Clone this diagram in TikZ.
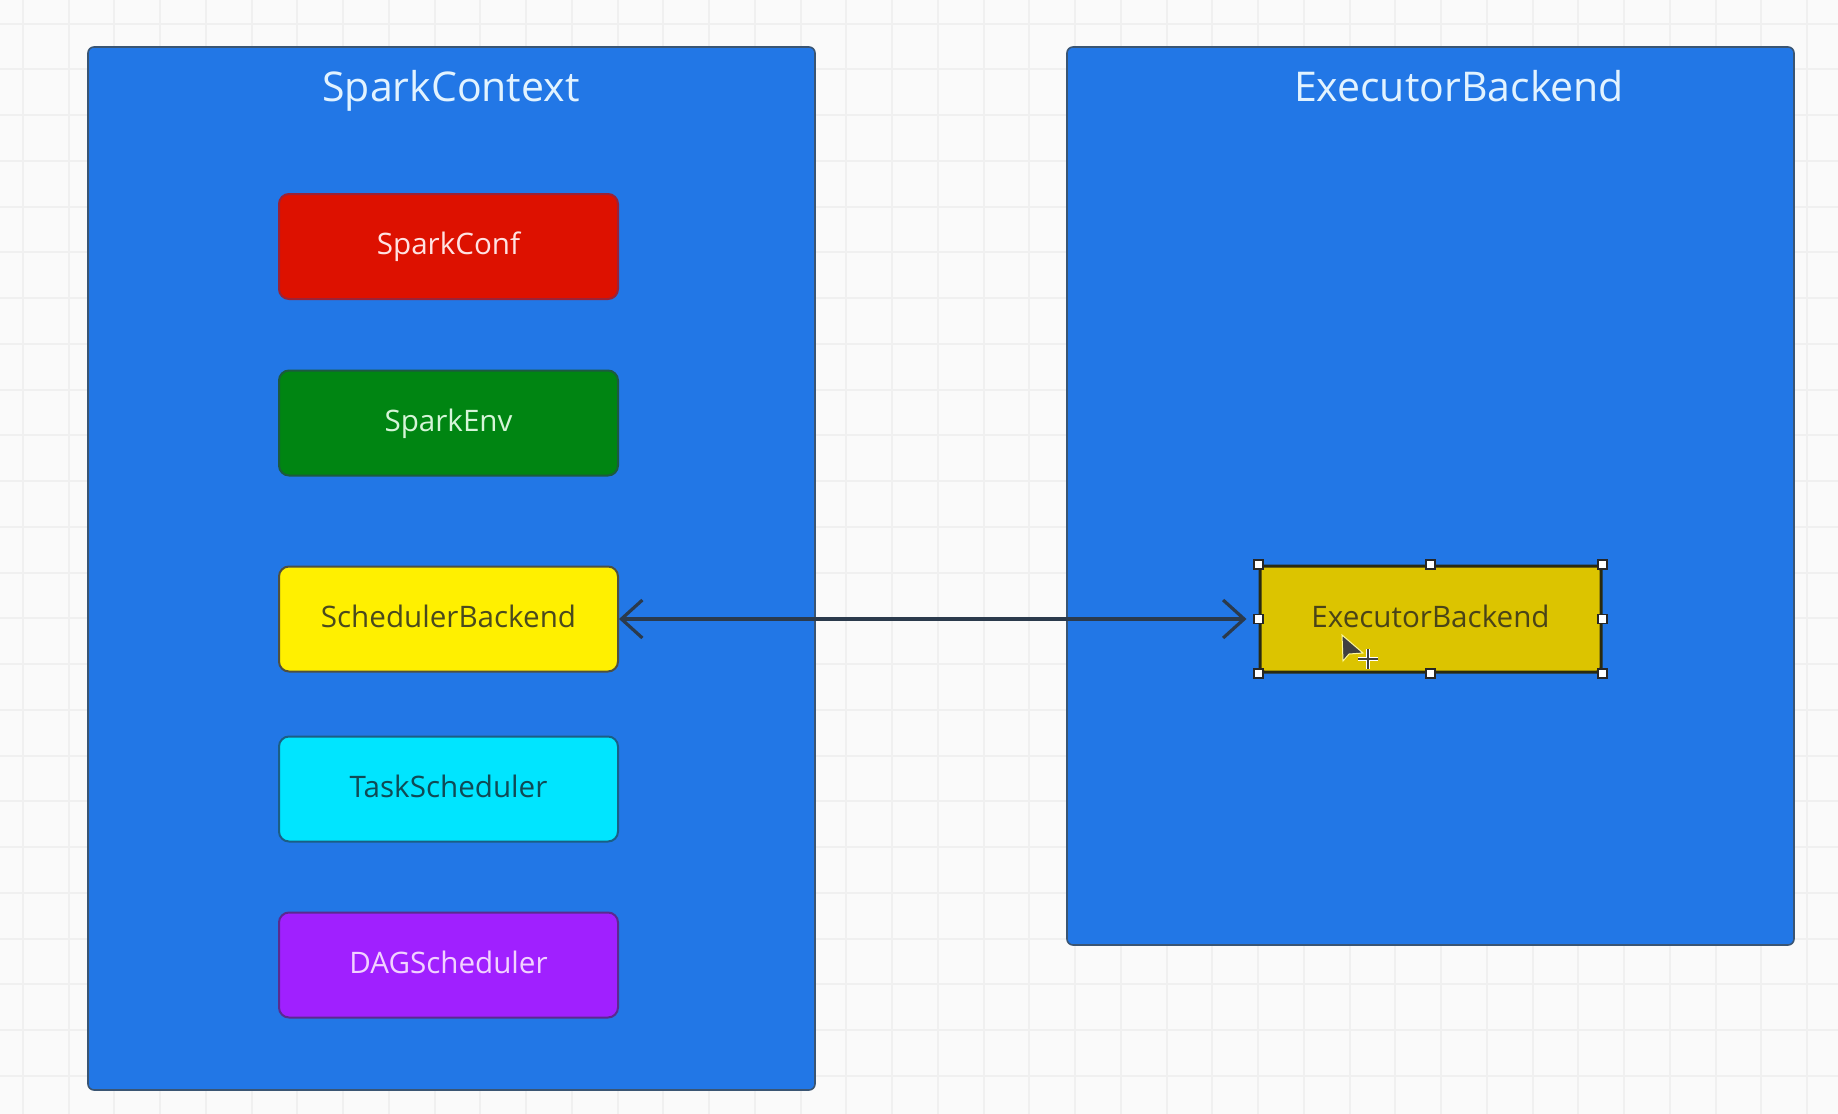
\documentclass[tikz,border=0pt]{standalone}
\usepackage{fontspec}
\setmainfont{Open Sans}
\usetikzlibrary{arrows.meta}
\definecolor{bgc}{HTML}{FAFAFA}
\definecolor{gridc}{HTML}{F0F0F0}
\definecolor{contc}{HTML}{2277E6}
\definecolor{contb}{HTML}{3A5573}
\definecolor{titlec}{HTML}{E2F3FF}
\definecolor{redf}{HTML}{DD1100}
\definecolor{redb}{HTML}{9A2238}
\definecolor{redt}{HTML}{FFE2E2}
\definecolor{greenf}{HTML}{008512}
\definecolor{greenb}{HTML}{1C5A40}
\definecolor{greent}{HTML}{D6F5D8}
\definecolor{yellowf}{HTML}{FFF000}
\definecolor{yellowb}{HTML}{4F5040}
\definecolor{yellowt}{HTML}{4A4A1E}
\definecolor{cyanf}{HTML}{00E5FF}
\definecolor{cyanb}{HTML}{1A5F85}
\definecolor{cyant}{HTML}{104A55}
\definecolor{purpf}{HTML}{A020FF}
\definecolor{purpb}{HTML}{5A2A90}
\definecolor{purpt}{HTML}{F2D2FF}
\definecolor{olivef}{HTML}{DCC400}
\definecolor{oliveb}{HTML}{2A2A10}
\definecolor{olivet}{HTML}{4A4418}
\definecolor{arrowc}{HTML}{2B3A4C}
\tikzset{
  gridline/.style={draw=gridc, line width=1pt},
  container/.style={draw=contb, fill=contc, line width=0.8pt, rounded corners=3pt},
  ctitle/.style={text=titlec, font=\fontsize{20.5}{24}\selectfont, anchor=base},
  comp/.style={rounded corners=5pt, line width=1pt, minimum width=169.5pt, minimum height=52.5pt, inner sep=0pt, text height=8.2pt, text depth=0pt, font=\fontsize{14.8}{18}\selectfont},
  handle/.style={draw=black!85, fill=white, line width=0.6pt, minimum size=4.5pt, inner sep=0pt},
  conn/.style={draw=arrowc, line width=1.8pt, {Straight Barb[length=10.5pt, width=19pt, line width=1.6pt]}-{Straight Barb[length=10.5pt, width=19pt, line width=1.6pt]}}
}
\begin{document}
\begin{tikzpicture}[x=0.5pt,y=-0.5pt]
\useasboundingbox (0,0) rectangle (1838,1114);
\fill[bgc] (0,0) rectangle (1838,1114);
\foreach \i in {0,...,39} \draw[gridline] ({22.8+45.75*\i},0) -- ({22.8+45.75*\i},1114);
\foreach \i in {0,...,24} \draw[gridline] (0,{23.5+45.75*\i}) -- (1838,{23.5+45.75*\i});

% containers
\draw[container] (88,47) rectangle (815,1090);
\draw[container] (1067,47) rectangle (1794,945);
\node[ctitle] (t1) at (451,101.5) {SparkContext};
\node[ctitle] (t2) at (1459,101.5) {ExecutorBackend};

% components
\node[comp, fill=redf, draw=redb, text=redt] (conf) at (448.5,246.5) {SparkConf};
\node[comp, fill=greenf, draw=greenb, text=greent] (env) at (448.5,423) {SparkEnv};
\node[comp, fill=yellowf, draw=yellowb, text=yellowt] (sb) at (448.5,619) {SchedulerBackend};
\node[comp, fill=cyanf, draw=cyanb, text=cyant] (ts) at (448.5,789) {TaskScheduler};
\node[comp, fill=purpf, draw=purpb, text=purpt] (dag) at (448.5,965) {DAGScheduler};
\node[comp, rounded corners=2pt, line width=1.5pt, fill=olivef, draw=oliveb, text=olivet, minimum width=170.5pt, minimum height=53pt] (eb) at (1430.5,619) {ExecutorBackend};

% connector
\draw[conn, shorten >=6pt] (sb.east) -- (eb.west);

% selection handles
\foreach \a [count=\k] in {north west,north,north east,east,south east,south,south west,west}
  \node[handle] (h\k) at (eb.\a) {};

% mouse cursor
\filldraw[fill=black!75, draw=yellow!40, line width=0.5pt] (1342,635) -- (1343,661) -- (1349,654) -- (1363,653) -- cycle;
\draw[white, line width=2.4pt] (1358,659) -- (1378,659) (1368,649) -- (1368,669);
\draw[black!75, line width=1.2pt] (1358,659) -- (1378,659) (1368,649) -- (1368,669);
\end{tikzpicture}
\end{document}
